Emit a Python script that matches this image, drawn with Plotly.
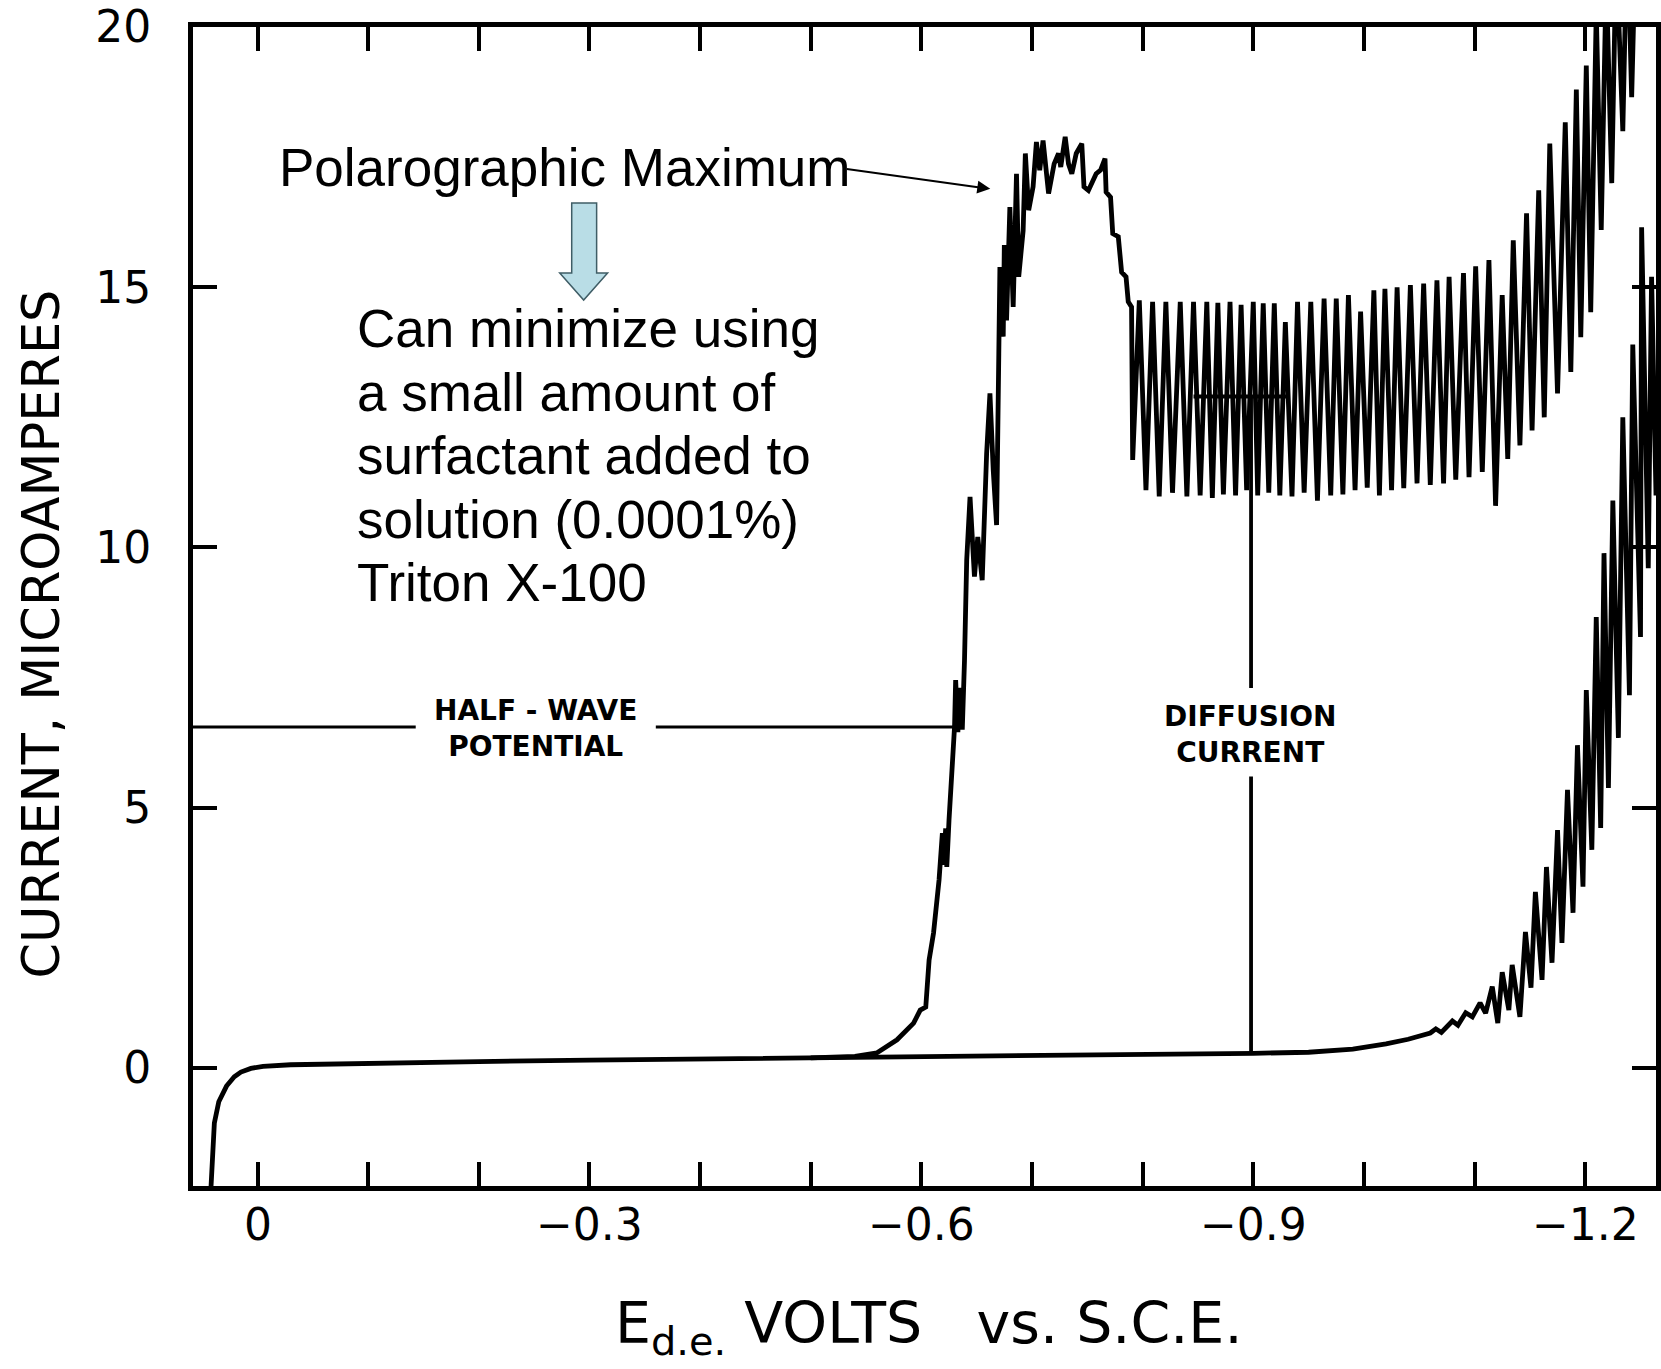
import plotly.graph_objects as go

# ---------------- data ----------------
# residual-current curve (smooth part), volts vs S.C.E. / microamperes
res_base_v = [0.042, 0.040, 0.039, 0.035, 0.028, 0.021, 0.015, 0.006, -0.005, -0.03,
              -0.1, -0.2, -0.3, -0.4, -0.5, -0.6, -0.7, -0.8, -0.9, -0.95,
              -0.99, -1.02, -1.04, -1.06]
res_base_i = [-2.28, -1.6, -1.06, -0.65, -0.35, -0.17, -0.08, -0.01, 0.03, 0.06,
              0.09, 0.12, 0.15, 0.17, 0.19, 0.20, 0.22, 0.24, 0.28, 0.30,
              0.36, 0.46, 0.55, 0.67]
# residual-current drop oscillations (peaks / troughs)
res_peak_v = [-1.065, -1.080, -1.092, -1.105, -1.116, -1.125, -1.134, -1.146, -1.155, -1.165,
              -1.175, -1.184, -1.193, -1.201, -1.210, -1.217, -1.225, -1.234, -1.243, -1.251, -1.260]
res_peak_i = [0.75, 0.9, 1.06, 1.25, 1.56, 1.84, 1.98, 2.61, 3.38, 3.86,
              4.57, 5.34, 6.2, 7.26, 8.66, 9.89, 10.9, 12.5, 13.9, 16.15, 15.2]
res_trough_v = [-1.070, -1.085, -1.098, -1.110, -1.121, -1.131, -1.141, -1.151, -1.161, -1.170,
                -1.179, -1.189, -1.198, -1.206, -1.214, -1.221, -1.230, -1.240, -1.250, -1.257, -1.264]
res_trough_i = [0.68, 0.82, 0.98, 1.05, 0.86, 1.11, 0.98, 1.54, 1.69, 2.02,
                2.4, 2.98, 3.48, 4.19, 4.61, 5.38, 6.34, 7.16, 8.28, 9.6, 11.0]

# reduction wave: foot and steep rise
foot_v = [-0.50, -0.54, -0.56, -0.578, -0.593, -0.599, -0.604, -0.607, -0.611, -0.616,
          -0.619, -0.620, -0.622, -0.623, -0.625, -0.628, -0.630, -0.631, -0.633, -0.635,
          -0.637, -0.639, -0.641]
foot_i = [0.19, 0.22, 0.29, 0.54, 0.86, 1.11, 1.17, 2.07, 2.59, 3.61,
          4.51, 3.9, 4.6, 3.86, 4.76, 5.9, 6.55, 7.45, 6.45, 7.3,
          6.5, 7.83, 9.76]
# polarographic maximum
max_v = [-0.644, -0.648, -0.651, -0.655, -0.659, -0.662, -0.665, -0.668, -0.670, -0.671,
         -0.674, -0.675, -0.677, -0.680, -0.683, -0.686, -0.688, -0.692, -0.694, -0.697,
         -0.701, -0.704, -0.707, -0.710, -0.715, -0.720, -0.724, -0.726, -0.730, -0.733,
         -0.736, -0.740, -0.745, -0.747, -0.751, -0.758, -0.762, -0.766, -0.767, -0.771,
         -0.773, -0.778, -0.781, -0.785, -0.787, -0.790, -0.791]
max_i = [10.97, 9.44, 10.20, 9.37, 11.80, 12.96, 11.48, 10.43, 13.72, 15.39,
         14.05, 15.81, 14.36, 16.54, 14.62, 17.18, 15.20, 16.09, 17.57, 16.48,
         16.93, 17.79, 17.25, 17.82, 16.80, 17.37, 17.57, 17.31, 17.89, 17.37,
         17.18, 17.57, 17.76, 16.93, 16.86, 17.18, 17.25, 17.47, 16.83, 16.73,
         16.03, 15.97, 15.29, 15.20, 14.72, 14.62, 11.68]
# diffusion-current plateau drop oscillations (peaks / troughs)
plat_peak_v = [-0.797, -0.809, -0.821, -0.834, -0.846, -0.858, -0.868, -0.879, -0.889, -0.900,
               -0.909, -0.919, -0.929, -0.940, -0.952, -0.964, -0.975, -0.986, -0.997, -1.009,
               -1.019, -1.030, -1.042, -1.054, -1.066, -1.077, -1.090, -1.101, -1.113, -1.125,
               -1.135, -1.147, -1.158, -1.168, -1.182, -1.192, -1.201, -1.210, -1.219, -1.228,
               -1.238, -1.246, -1.255, -1.264]
plat_peak_i = [14.75, 14.72, 14.72, 14.72, 14.72, 14.72, 14.70, 14.72, 14.66, 14.72,
               14.69, 14.69, 14.33, 14.72, 14.72, 14.78, 14.78, 14.85, 14.53, 14.94,
               14.97, 15.0, 15.04, 15.07, 15.13, 15.2, 15.27, 15.4, 15.52, 14.85,
               15.9, 16.42, 16.86, 17.76, 18.17, 18.8, 19.26, 20.3, 21.0, 21.5,
               22.0, 22.0, 22.0, 22.0]
plat_trough_v = [-0.803, -0.815, -0.827, -0.840, -0.852, -0.863, -0.873, -0.884, -0.894, -0.904,
                 -0.914, -0.924, -0.935, -0.946, -0.958, -0.970, -0.981, -0.992, -1.003, -1.014,
                 -1.025, -1.036, -1.048, -1.060, -1.072, -1.083, -1.095, -1.107, -1.119, -1.130,
                 -1.141, -1.152, -1.163, -1.175, -1.187, -1.196, -1.205, -1.2145, -1.224, -1.234,
                 -1.242, -1.251, -1.259]
plat_trough_i = [11.1, 10.98, 11.05, 10.98, 11.0, 10.95, 11.02, 11.0, 11.1, 11.0,
                 11.05, 11.0, 10.98, 11.05, 10.9, 11.0, 11.02, 11.1, 11.15, 11.0,
                 11.1, 11.14, 11.23, 11.2, 11.23, 11.3, 11.35, 11.45, 10.8, 11.7,
                 11.96, 12.25, 12.5, 12.96, 13.37, 14.04, 14.52, 16.1, 17.0, 18.0,
                 18.65, 20.5, 21.0]

# construction lines
half_wave_current = 6.55
half_wave_potential = -0.630
half_wave_gap = [-0.143, -0.360]
diffusion_potential = -0.898
diffusion_gap = [5.6, 7.3]
diffusion_level = 12.9
diffusion_mark = [-0.846, -0.932]
baseline_at_diffusion = 0.28

x_tick_vals = [0, -0.1, -0.2, -0.3, -0.4, -0.5, -0.6, -0.7, -0.8, -0.9, -1.0, -1.1, -1.2]
x_label_vals = [0, -0.3, -0.6, -0.9, -1.2]
x_label_text = ["0", "\u22120.3", "\u22120.6", "\u22120.9", "\u22121.2"]
y_tick_vals = [0, 5, 10, 15, 20]
y_tick_text = ["0", "5", "10", "15", "20"]
x_range = [0.0583, -1.264]
y_range = [-2.27, 20.0]

note_lines = ["Can minimize using", "a small amount of", "surfactant added to",
              "solution (0.0001%)", "Triton X-100"]

# ---------------- build traces ----------------
def interleave(pv, pi, tv, ti):
    xs, ys = [], []
    for k in range(len(pv)):
        xs.append(pv[k]); ys.append(pi[k])
        if k < len(tv):
            xs.append(tv[k]); ys.append(ti[k])
    return xs, ys

res_osc_v, res_osc_i = interleave(res_peak_v, res_peak_i, res_trough_v, res_trough_i)
plat_v, plat_i = interleave(plat_peak_v, plat_peak_i, plat_trough_v, plat_trough_i)

residual_v = res_base_v + res_osc_v
residual_i = res_base_i + res_osc_i
main_v = foot_v + max_v + plat_v
main_i = foot_i + max_i + plat_i

W, H = 1661, 1369
L, R, T, B = 193, 1661, 27, 1186

def pxx(px):
    return (px - L) / (R - L)

def pxy(py):
    return (B - py) / (B - T)

line_style = dict(color="black", width=4.8)
fig = go.Figure()
fig.add_trace(go.Scatter(x=residual_v, y=residual_i, mode="lines", line=line_style,
                         showlegend=False, hoverinfo="skip"))
fig.add_trace(go.Scatter(x=main_v, y=main_i, mode="lines", line=line_style,
                         showlegend=False, hoverinfo="skip"))
# half-wave potential line
fig.add_trace(go.Scatter(
    x=[x_range[0], half_wave_gap[0], None, half_wave_gap[1], half_wave_potential],
    y=[half_wave_current, half_wave_current, None, half_wave_current, half_wave_current],
    mode="lines", line=dict(color="black", width=3.2), showlegend=False, hoverinfo="skip"))
# diffusion current line
fig.add_trace(go.Scatter(
    x=[diffusion_potential, diffusion_potential, None, diffusion_potential, diffusion_potential,
       None, diffusion_mark[0], diffusion_mark[1]],
    y=[baseline_at_diffusion, diffusion_gap[0], None, diffusion_gap[1], diffusion_level,
       None, diffusion_level, diffusion_level],
    mode="lines", line=dict(color="black", width=3.8), showlegend=False, hoverinfo="skip"))

tick_font = dict(family="DejaVu Sans", size=44, color="black")
fig.update_xaxes(range=x_range, tickvals=x_tick_vals, showticklabels=False,
                 ticks="inside", ticklen=24, tickwidth=4, tickcolor="black",
                 showline=True, linewidth=5, linecolor="black", mirror="ticks",
                 showgrid=False, zeroline=False)
fig.update_yaxes(range=y_range, tickvals=y_tick_vals, ticktext=y_tick_text,
                 ticks="inside", ticklen=24, tickwidth=4, tickcolor="black",
                 showline=True, linewidth=5, linecolor="black", mirror="ticks",
                 showgrid=False, zeroline=False, tickfont=tick_font,
                 ticklabelstandoff=28)

# x tick labels placed under their ticks
for v, t in zip(x_label_vals, x_label_text):
    fig.add_annotation(x=v, y=pxy(1224), xref="x", yref="paper", text=t, showarrow=False,
                       xanchor="center", yanchor="middle", font=tick_font)

arial = "Liberation Sans, Arial, sans-serif"
annos = [
    dict(text="Polarographic Maximum", x=pxx(277), y=pxy(167), xanchor="left", yanchor="middle",
         font=dict(family=arial, size=53, color="black")),
    dict(text="HALF - WAVE<br>POTENTIAL", x=pxx(537), y=pxy(729), xanchor="center", yanchor="middle",
         font=dict(family="DejaVu Sans", size=28, color="black", weight="bold")),
    dict(text="DIFFUSION<br>CURRENT", x=pxx(1254), y=pxy(734), xanchor="center", yanchor="middle",
         font=dict(family="DejaVu Sans", size=28, color="black", weight="bold")),
    dict(text="CURRENT, MICROAMPERES", x=pxx(40), y=pxy(634), textangle=-90,
         xanchor="center", yanchor="middle",
         font=dict(family="DejaVu Sans", size=51, color="black")),
    dict(text="E<sub>d.e.</sub> VOLTS\u00a0\u00a0 vs. S.C.E.", x=pxx(932), y=pxy(1327),
         xanchor="center", yanchor="middle",
         font=dict(family="DejaVu Sans", size=57, color="black")),
]
line_y = [328, 392, 455, 519, 582]
for txt, yy in zip(note_lines, line_y):
    annos.append(dict(text=txt, x=pxx(356), y=pxy(yy), xanchor="left", yanchor="middle",
                      font=dict(family=arial, size=53, color="black")))
for a in annos:
    a.update(xref="paper", yref="paper", showarrow=False)
    fig.add_annotation(**a)

# thin pointer arrow to the maximum
fig.add_annotation(x=-0.6623, y=16.89, xref="x", yref="y", ax=-145, ay=-20,
                   axref="pixel", ayref="pixel", text="", showarrow=True,
                   arrowhead=2, arrowsize=1.3, arrowwidth=2, arrowcolor="black")

# block arrow (light blue, pointing down)
pts = [(573, 203), (598, 203), (598, 273), (609, 273), (585, 300), (561, 273), (573, 273)]
path = "M " + " L ".join(f"{pxx(a):.5f},{pxy(b):.5f}" for a, b in pts) + " Z"
fig.add_shape(type="path", path=path, xref="paper", yref="paper",
              fillcolor="#b9dde6", line=dict(color="#3f5d66", width=1.5), layer="above")

fig.update_layout(width=W, height=H, margin=dict(l=L, r=W - R, t=T, b=H - B),
                  paper_bgcolor="white", plot_bgcolor="white", showlegend=False)

fig.write_html("out.html")
